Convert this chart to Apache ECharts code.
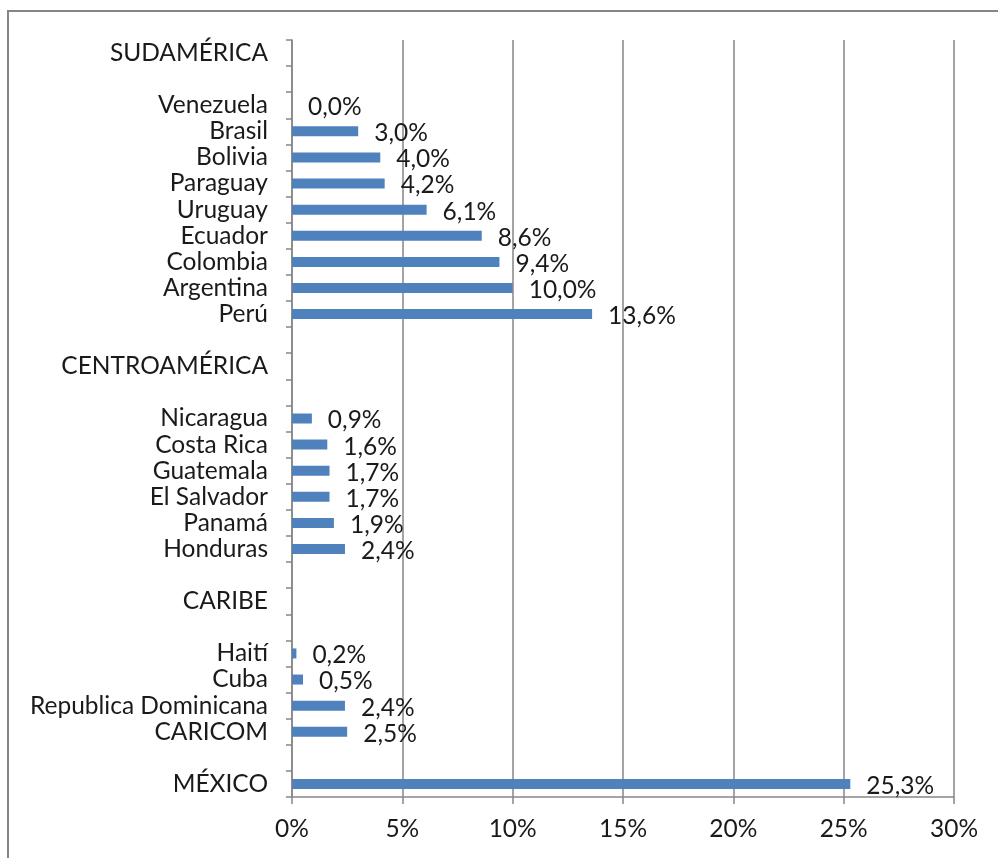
<!DOCTYPE html>
<html>
<head>
<meta charset="utf-8">
<script src="https://cdn.jsdelivr.net/npm/echarts@6/dist/echarts.min.js"></script>
<style>html,body{margin:0;padding:0;background:#fff}#c{width:998px;height:858px}</style>
</head>
<body>
<div id="c"></div>
<script>
var categories = ['SUDAMÉRICA','','Venezuela','Brasil','Bolivia','Paraguay','Uruguay','Ecuador','Colombia','Argentina','Perú','','CENTROAMÉRICA','','Nicaragua','Costa Rica','Guatemala','El Salvador','Panamá','Honduras','','CARIBE','','Haití','Cuba','Republica Dominicana','CARICOM','','MÉXICO'];
var values = [null,null,0.0,3.0,4.0,4.2,6.1,8.6,9.4,10.0,13.6,null,null,null,0.9,1.6,1.7,1.7,1.9,2.4,null,null,null,0.2,0.5,2.4,2.5,null,25.3];
var xTicks = [0,5,10,15,20,25,30];

var FONT = 'Lato';
var FS = 24.5;
var chart = echarts.init(document.getElementById('c'));
chart.setOption({
  animation:false,
  backgroundColor:'#fff',
  graphic:[{type:'rect',shape:{x:8,y:11,width:1010,height:870},style:{fill:'none',stroke:'#868686',lineWidth:2}}],
  grid:{left:292,right:44,top:40,bottom:61},
  xAxis:{type:'value',min:xTicks[0],max:xTicks[xTicks.length-1],interval:xTicks[1]-xTicks[0],
    axisLine:{show:true,lineStyle:{color:'#868686',width:1.5}},
    axisTick:{show:true,length:7,lineStyle:{color:'#868686',width:1.5}},
    splitLine:{show:true,lineStyle:{color:'#868686',width:1.5}},
    axisLabel:{margin:20,color:'#1a1a1a',fontFamily:FONT,fontSize:FS,formatter:function(v){return v+'%';}}},
  yAxis:{type:'category',inverse:true,data:categories,boundaryGap:true,
    axisLine:{show:true,lineStyle:{color:'#868686',width:1.5}},
    axisTick:{show:true,length:6,alignWithLabel:false,interval:0,lineStyle:{color:'#868686',width:1.5}},
    axisLabel:{interval:0,margin:24,color:'#1a1a1a',fontFamily:FONT,fontSize:FS}},
  series:[{type:'bar',data:values,barWidth:10,itemStyle:{color:'#4F81BD'},
    label:{show:true,position:'right',distance:16,offset:[0,2],color:'#1a1a1a',fontFamily:FONT,fontSize:FS,
      formatter:function(p){return p.value==null?'':p.value.toFixed(1).replace('.',',')+'%';}}}]
});
</script>
</body>
</html>
